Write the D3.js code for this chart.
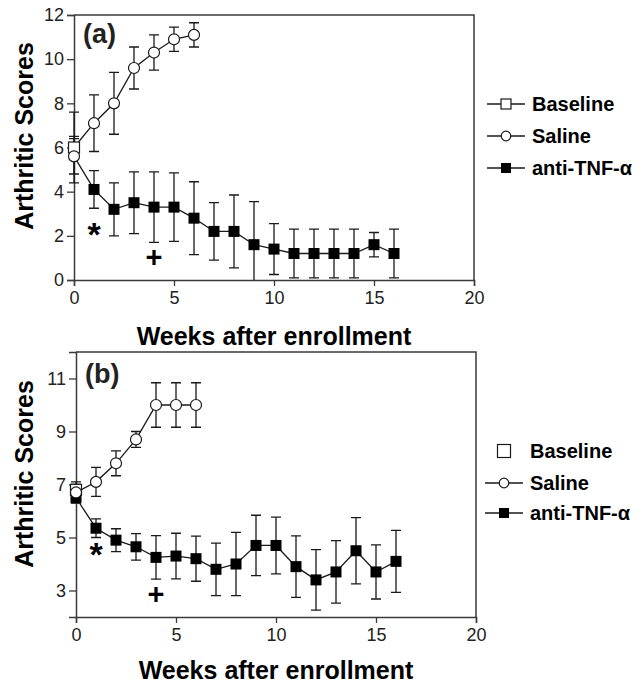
<!DOCTYPE html>
<html>
<head>
<meta charset="utf-8">
<script src="https://cdn.jsdelivr.net/npm/d3@7"></script>
<style>
  body { margin: 0; background: #fff; }
  text { font-family: "Liberation Sans", Arial, sans-serif; }
</style>
</head>
<body>
<div id="chart"></div>
<script>
// Panel (a) data
const weeksSaline = [0, 1, 2, 3, 4, 5, 6];
const weeksTNF = [0, 1, 2, 3, 4, 5, 6, 7, 8, 9, 10, 11, 12, 13, 14, 15, 16];

const baselineA = 6.0, baselineErrA = 0.5;
const salineA = [6.0, 7.1, 8.0, 9.6, 10.3, 10.9, 11.1];
const salineErrA = [1.6, 1.28, 1.4, 0.95, 0.8, 0.55, 0.55];
const tnfA = [5.6, 4.1, 3.2, 3.5, 3.3, 3.3, 2.8, 2.2, 2.2, 1.6, 1.4, 1.2, 1.2, 1.2, 1.2, 1.6, 1.2];
const tnfErrA = [0.8, 0.85, 1.2, 1.4, 1.6, 1.55, 1.65, 1.3, 1.65, 1.95, 1.15, 1.1, 1.1, 1.1, 1.1, 0.55, 1.1];
const starA = 2.4, plusA = 1.05;

// Panel (b) data
const baselineB = 6.8, baselineErrB = 0.3;
const salineB = [6.7, 7.1, 7.8, 8.7, 10.0, 10.0, 10.0];
const salineErrB = [0.3, 0.55, 0.47, 0.3, 0.84, 0.84, 0.84];
const tnfB = [6.5, 5.35, 4.9, 4.65, 4.25, 4.3, 4.2, 3.8, 4.0, 4.7, 4.7, 3.9, 3.4, 3.7, 4.5, 3.7, 4.1];
const tnfErrB = [0.2, 0.35, 0.43, 0.5, 0.82, 0.86, 0.85, 0.99, 1.19, 1.14, 1.07, 1.16, 1.14, 1.18, 1.25, 1.02, 1.17];
const starB = 4.65, plusB = 2.85;

const xTicks = [0, 5, 10, 15, 20];
const yTicksA = [0, 2, 4, 6, 8, 10, 12];
const yTicksB = [3, 5, 7, 9, 11];
const legendLabels = ['Baseline', 'Saline', 'anti-TNF-α'];

const width = 644, height = 686;
const ink = '#1a1a1a', axisInk = '#3a3a3a';

const svg = d3.select('#chart').append('svg')
  .attr('width', width)
  .attr('height', height);

function drawPanel(p) {
  const x = d3.scaleLinear().domain([0, 20]).range([p.left, p.right]);
  const y = d3.scaleLinear().domain(p.yDomain).range([p.bottom, p.top]);
  const g = svg.append('g');

  // frame (top and right)
  g.append('path')
    .attr('d', `M${p.left},${p.top}H${p.right}V${p.bottom}`)
    .attr('fill', 'none').attr('stroke', axisInk).attr('stroke-width', 1.5);

  // axes
  const xAxis = g.append('g')
    .attr('transform', `translate(0,${p.bottom})`)
    .call(d3.axisBottom(x).tickValues(xTicks).tickSize(6).tickPadding(5));
  const yAxis = g.append('g')
    .attr('transform', `translate(${p.left},0)`)
    .call(d3.axisLeft(y).tickValues(p.yTicks).tickSize(7).tickPadding(3));
  [xAxis, yAxis].forEach(a => {
    a.select('.domain').attr('stroke', axisInk).attr('stroke-width', 1.5);
    a.selectAll('.tick line').attr('stroke', axisInk).attr('stroke-width', 1.3);
    a.selectAll('.tick text')
      .attr('fill', '#222')
      .style('font-size', '18px')
      .style('font-family', '"Liberation Sans", Arial, sans-serif');
  });

  // axis titles
  g.append('text')
    .attr('x', (p.left + p.right) / 2)
    .attr('y', p.xTitleY)
    .attr('text-anchor', 'middle')
    .style('font-size', '25px').style('font-weight', 'bold')
    .text('Weeks after enrollment');
  g.append('text')
    .attr('transform', `translate(33,${p.yTitleY}) rotate(-90)`)
    .attr('text-anchor', 'middle')
    .style('font-size', '25px').style('font-weight', 'bold')
    .text('Arthritic Scores');

  // panel label
  g.append('text')
    .attr('x', p.left + 9)
    .attr('y', p.labelY)
    .style('font-size', '27px').style('font-weight', 'bold')
    .attr('fill', '#222')
    .text(p.label);

  const cap = 5;
  function errorBars(xs, vals, errs) {
    const eb = g.append('g').attr('stroke', ink).attr('stroke-width', 1.3).attr('fill', 'none');
    xs.forEach((w, i) => {
      const hi = vals[i] + errs[i];
      const lo = Math.max(vals[i] - errs[i], p.yDomain[0]);
      const cx = x(w);
      let d = `M${cx},${y(hi)}V${y(lo)}M${cx - cap},${y(hi)}H${cx + cap}`;
      if (vals[i] - errs[i] > p.yDomain[0]) d += `M${cx - cap},${y(lo)}H${cx + cap}`;
      eb.append('path').attr('d', d);
    });
  }

  errorBars([0], [p.baseline], [p.baselineErr]);
  errorBars(weeksSaline, p.saline, p.salineErr);
  errorBars(weeksTNF, p.tnf, p.tnfErr);

  const line = d3.line().x(d => x(d[0])).y(d => y(d[1]));
  g.append('path')
    .attr('d', line(weeksSaline.map((w, i) => [w, p.saline[i]])))
    .attr('fill', 'none').attr('stroke', ink).attr('stroke-width', 1.3);
  g.append('path')
    .attr('d', line(weeksTNF.map((w, i) => [w, p.tnf[i]])))
    .attr('fill', 'none').attr('stroke', ink).attr('stroke-width', 1.3);

  const sq = 11, r = 5.5;
  // baseline open square
  g.append('rect')
    .attr('x', x(0) - sq / 2).attr('y', y(p.baseline) - sq / 2)
    .attr('width', sq).attr('height', sq)
    .attr('fill', '#fff').attr('stroke', ink).attr('stroke-width', 1.2);

  // anti-TNF filled squares
  g.selectAll(null)
    .data(weeksTNF.map((w, i) => [w, p.tnf[i]]).filter(d => p.tnfZeroSquare || d[0] > 0))
    .enter().append('rect')
    .attr('x', d => x(d[0]) - sq / 2).attr('y', d => y(d[1]) - sq / 2)
    .attr('width', sq).attr('height', sq)
    .attr('fill', '#000');

  // saline open circles
  const circ = weeksSaline.map((w, i) => [w, p.saline[i]]).filter(d => d[0] > 0);
  circ.push([0, p.zeroCircle]);
  g.selectAll(null)
    .data(circ)
    .enter().append('circle')
    .attr('cx', d => x(d[0])).attr('cy', d => y(d[1]))
    .attr('r', r)
    .attr('fill', '#fff').attr('stroke', ink).attr('stroke-width', 1.2);

  // significance marks
  g.append('text')
    .attr('x', x(1)).attr('y', y(p.star)).attr('dy', 19)
    .attr('text-anchor', 'middle')
    .style('font-size', '34px').style('font-weight', 'bold')
    .text('*');
  g.append('text')
    .attr('x', x(4)).attr('y', y(p.plus)).attr('dy', 10)
    .attr('text-anchor', 'middle')
    .style('font-size', '29px').style('font-weight', 'bold')
    .text('+');

  // legend
  const lg = g.append('g');
  legendLabels.forEach((lab, i) => {
    const ly = p.legendY[i];
    const row = lg.append('g');
    const mx = p.legendMarkX;
    if (!(i === 0 && !p.baselineLine)) {
      row.append('line')
        .attr('x1', mx - 19).attr('x2', mx + 19)
        .attr('y1', ly).attr('y2', ly)
        .attr('stroke', ink).attr('stroke-width', 1.3);
    }
    if (i === 0) {
      const s = p.baselineLine ? 10 : 13;
      row.append('rect')
        .attr('x', mx - s / 2).attr('y', ly - s / 2).attr('width', s).attr('height', s)
        .attr('fill', '#fff').attr('stroke', ink).attr('stroke-width', 1.2);
    } else if (i === 1) {
      row.append('circle').attr('cx', mx).attr('cy', ly).attr('r', 4.8)
        .attr('fill', '#fff').attr('stroke', ink).attr('stroke-width', 1.2);
    } else {
      row.append('rect')
        .attr('x', mx - 5).attr('y', ly - 5).attr('width', 10).attr('height', 10)
        .attr('fill', '#000');
    }
    row.append('text')
      .attr('x', p.legendTextX).attr('y', ly + 7)
      .style('font-size', '20px').style('font-weight', 'bold')
      .text(lab);
  });
}

drawPanel({
  label: '(a)', left: 74, right: 474, top: 15, bottom: 280,
  yDomain: [0, 12], yTicks: yTicksA,
  baseline: baselineA, baselineErr: baselineErrA,
  saline: salineA, salineErr: salineErrA,
  tnf: tnfA, tnfErr: tnfErrA, tnfZeroSquare: false, zeroCircle: tnfA[0],
  star: starA, plus: plusA,
  xTitleY: 345, yTitleY: 136, labelY: 43,
  legendY: [104, 136, 168], legendMarkX: 506, legendTextX: 532, baselineLine: true
});

drawPanel({
  label: '(b)', left: 76, right: 476, top: 352, bottom: 617,
  yDomain: [2, 12], yTicks: yTicksB,
  baseline: baselineB, baselineErr: baselineErrB,
  saline: salineB, salineErr: salineErrB,
  tnf: tnfB, tnfErr: tnfErrB, tnfZeroSquare: true, zeroCircle: salineB[0],
  star: starB, plus: plusB,
  xTitleY: 679, yTitleY: 474, labelY: 383,
  legendY: [451, 483, 513], legendMarkX: 504, legendTextX: 530, baselineLine: false
});
</script>
</body>
</html>
